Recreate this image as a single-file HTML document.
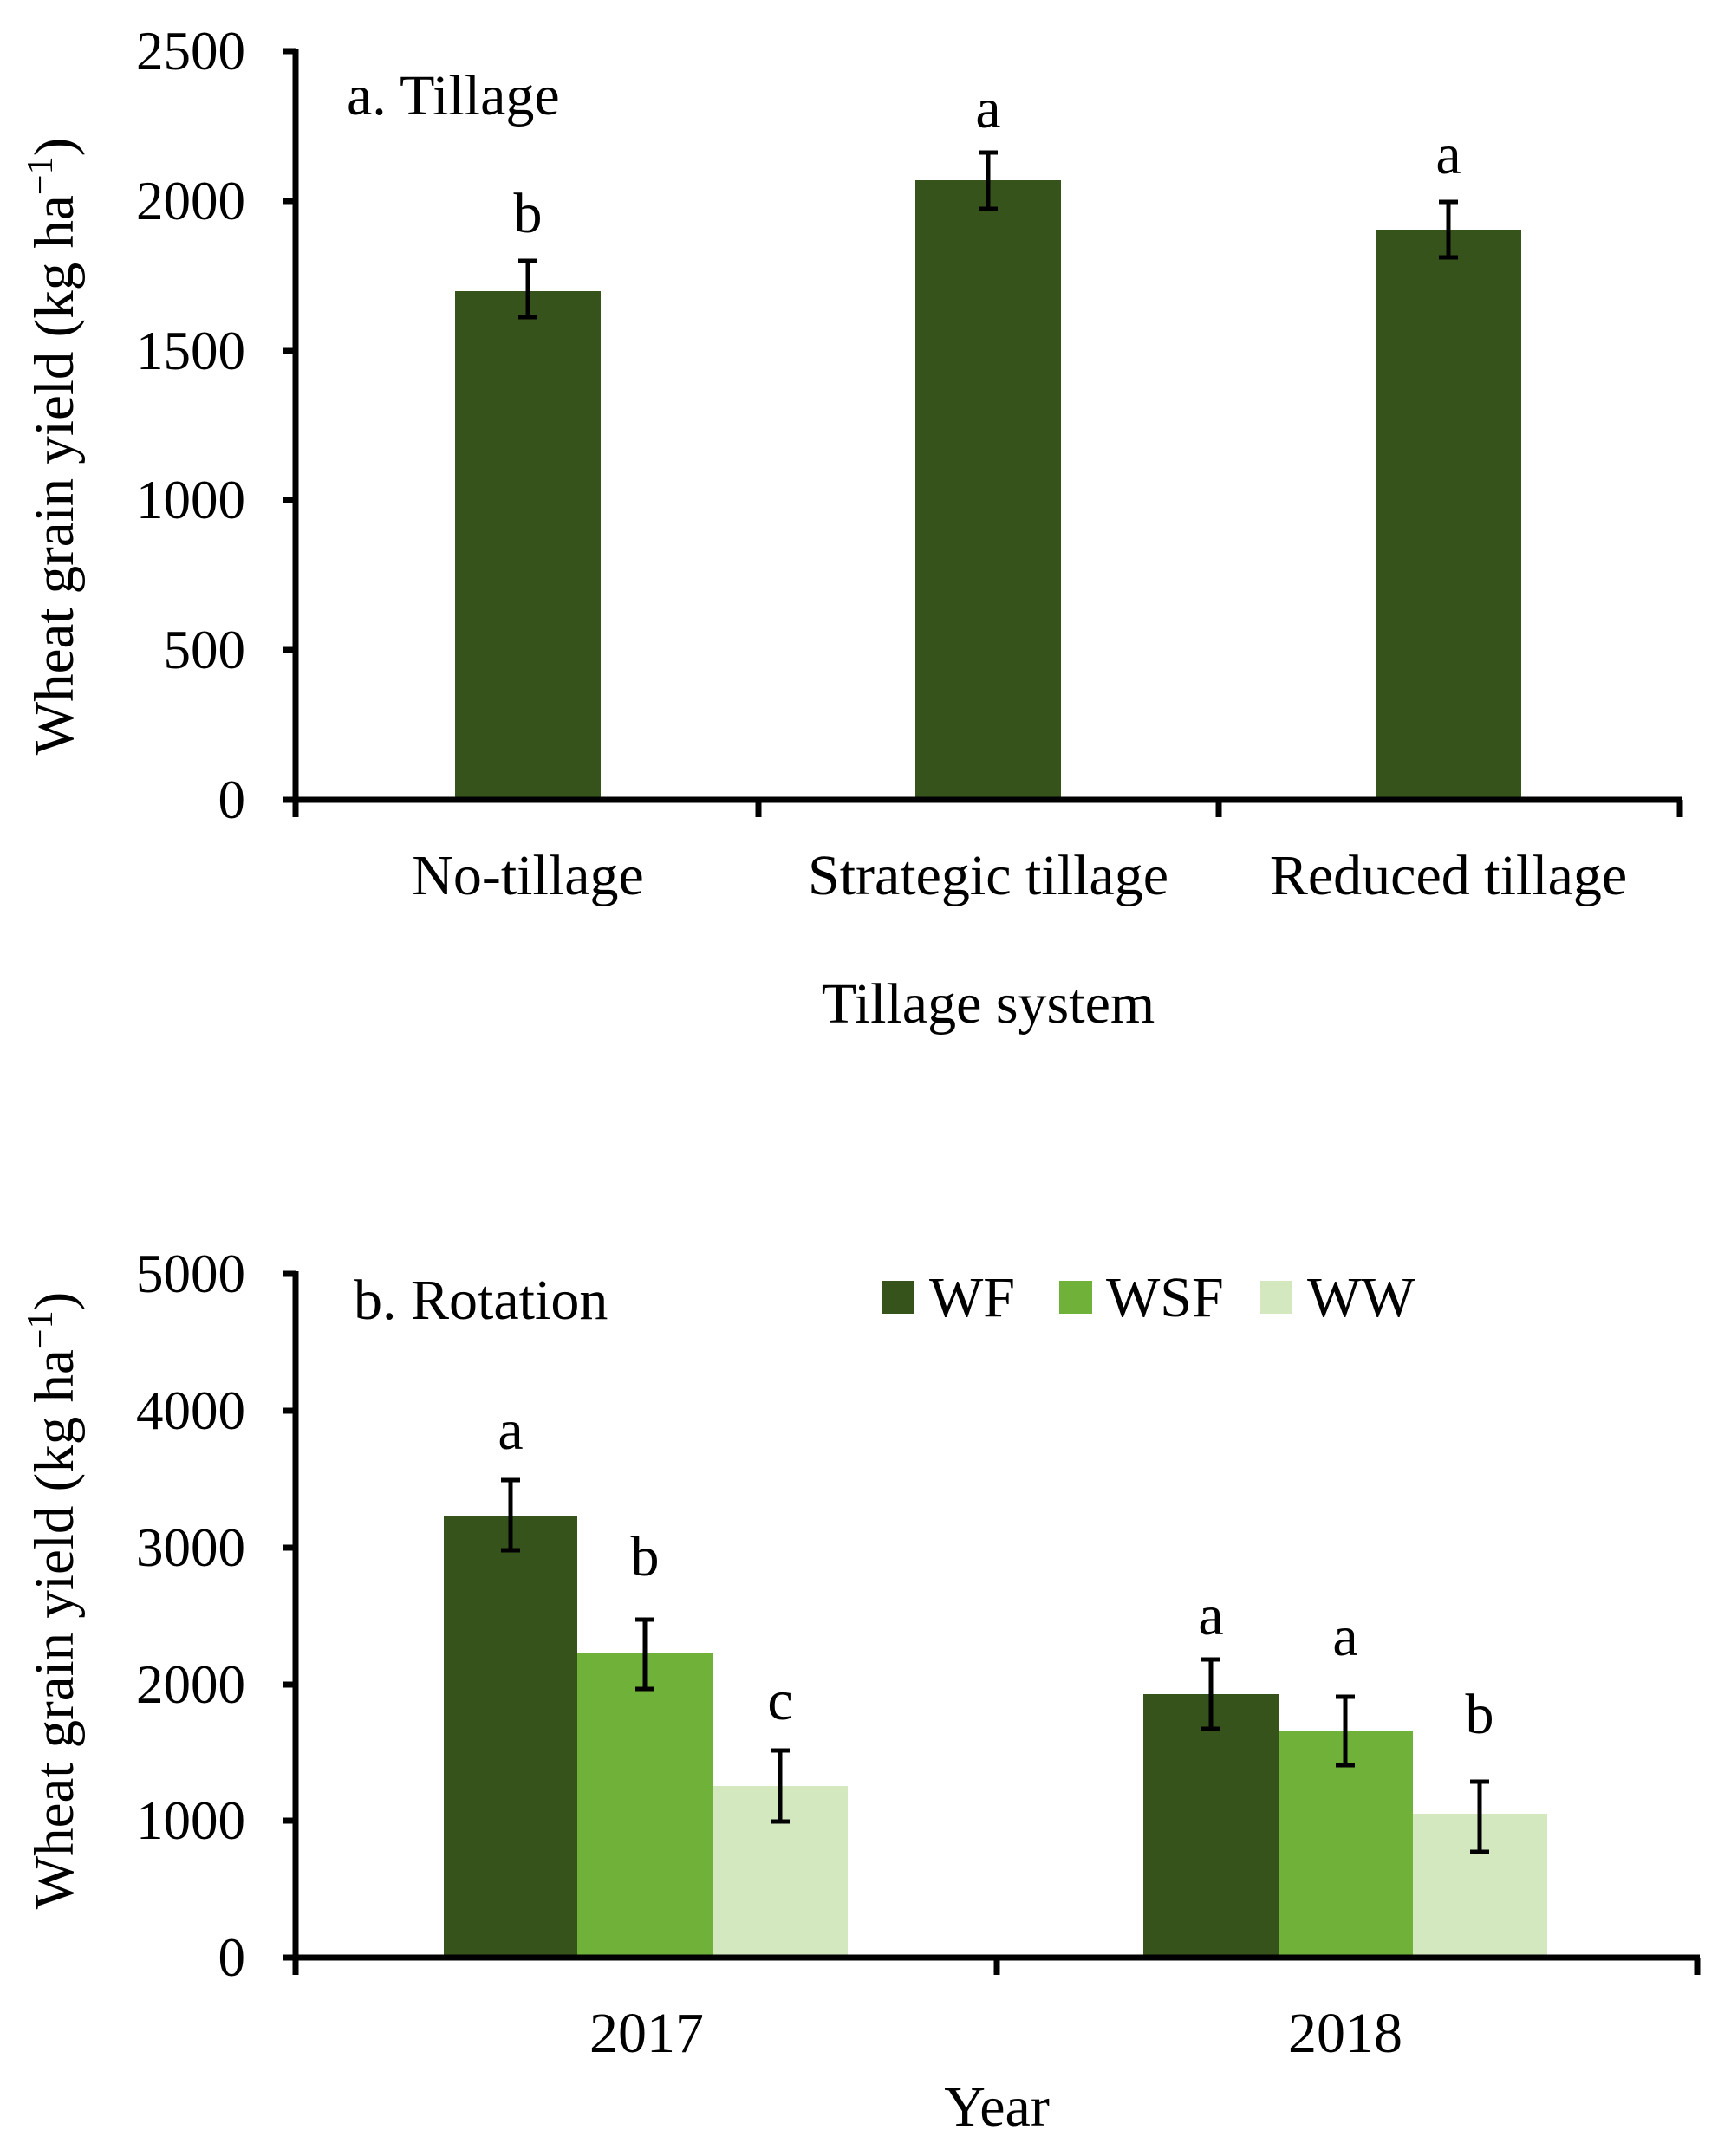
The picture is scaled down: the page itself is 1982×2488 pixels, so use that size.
<!DOCTYPE html>
<html><head><style>body{margin:0;background:#fff}svg{display:block}</style></head><body>
<svg width="1982" height="2488" viewBox="0 0 1982 2488" xmlns="http://www.w3.org/2000/svg" font-family="'Liberation Serif', serif" fill="#000">
<!-- Chart a -->
<g>
<rect x="525" y="336" width="168" height="587" fill="#36531c"/>
<rect x="1056" y="208" width="168" height="715" fill="#36531c"/>
<rect x="1587" y="265" width="168" height="658" fill="#36531c"/>
<g stroke="#000" stroke-width="5">
<line x1="609" y1="301" x2="609" y2="366"/><line x1="598" y1="301" x2="620" y2="301"/><line x1="598" y1="366" x2="620" y2="366"/>
<line x1="1140" y1="176" x2="1140" y2="241"/><line x1="1129" y1="176" x2="1151" y2="176"/><line x1="1129" y1="241" x2="1151" y2="241"/>
<line x1="1671" y1="233" x2="1671" y2="297"/><line x1="1660" y1="233" x2="1682" y2="233"/><line x1="1660" y1="297" x2="1682" y2="297"/>
</g>
<g stroke="#000" stroke-width="7">
<line x1="341" y1="56" x2="341" y2="943"/>
<line x1="326" y1="923" x2="1941" y2="923"/>
<line x1="875" y1="923" x2="875" y2="943"/><line x1="1406" y1="923" x2="1406" y2="943"/><line x1="1938" y1="923" x2="1938" y2="943"/>
<line x1="326" y1="59" x2="341" y2="59"/><line x1="326" y1="232" x2="341" y2="232"/><line x1="326" y1="405" x2="341" y2="405"/><line x1="326" y1="577" x2="341" y2="577"/><line x1="326" y1="750" x2="341" y2="750"/>
</g>
<g font-size="63" text-anchor="end">
<text x="283" y="80">2500</text><text x="283" y="253">2000</text><text x="283" y="426">1500</text><text x="283" y="598">1000</text><text x="283" y="771">500</text><text x="283" y="944">0</text>
</g>
<g font-size="66" text-anchor="middle">
<text x="609" y="268">b</text><text x="1140" y="147">a</text><text x="1671" y="200">a</text>
<text x="609" y="1032">No-tillage</text><text x="1140" y="1032">Strategic tillage</text><text x="1671" y="1032">Reduced tillage</text>
<text x="1140" y="1180">Tillage system</text>
</g>
<text x="400" y="132" font-size="66">a. Tillage</text>
<text transform="translate(84,515) rotate(-90)" font-size="65" text-anchor="middle">Wheat grain yield (kg ha<tspan dy="-24" font-size="42">−1</tspan><tspan dy="24">)</tspan></text>
</g>
<!-- Chart b -->
<g>
<rect x="512" y="1749" width="154" height="510" fill="#36531c"/>
<rect x="666" y="1907" width="157" height="352" fill="#70b13a"/>
<rect x="823" y="2061" width="155" height="198" fill="#d3e8bf"/>
<rect x="1319" y="1955" width="156" height="304" fill="#36531c"/>
<rect x="1475" y="1998" width="155" height="261" fill="#70b13a"/>
<rect x="1630" y="2093" width="155" height="166" fill="#d3e8bf"/>
<g stroke="#000" stroke-width="5">
<line x1="589" y1="1708" x2="589" y2="1789"/><line x1="578" y1="1708" x2="600" y2="1708"/><line x1="578" y1="1789" x2="600" y2="1789"/>
<line x1="744" y1="1869" x2="744" y2="1949"/><line x1="733" y1="1869" x2="755" y2="1869"/><line x1="733" y1="1949" x2="755" y2="1949"/>
<line x1="900" y1="2020" x2="900" y2="2102"/><line x1="889" y1="2020" x2="911" y2="2020"/><line x1="889" y1="2102" x2="911" y2="2102"/>
<line x1="1397" y1="1915" x2="1397" y2="1995"/><line x1="1386" y1="1915" x2="1408" y2="1915"/><line x1="1386" y1="1995" x2="1408" y2="1995"/>
<line x1="1552" y1="1958" x2="1552" y2="2037"/><line x1="1541" y1="1958" x2="1563" y2="1958"/><line x1="1541" y1="2037" x2="1563" y2="2037"/>
<line x1="1707" y1="2056" x2="1707" y2="2137"/><line x1="1696" y1="2056" x2="1718" y2="2056"/><line x1="1696" y1="2137" x2="1718" y2="2137"/>
</g>
<g stroke="#000" stroke-width="7">
<line x1="341" y1="1467" x2="341" y2="2279"/>
<line x1="326" y1="2259" x2="1961" y2="2259"/>
<line x1="1150" y1="2259" x2="1150" y2="2279"/><line x1="1958" y1="2259" x2="1958" y2="2279"/>
<line x1="326" y1="1470" x2="341" y2="1470"/><line x1="326" y1="1628" x2="341" y2="1628"/><line x1="326" y1="1786" x2="341" y2="1786"/><line x1="326" y1="1944" x2="341" y2="1944"/><line x1="326" y1="2101" x2="341" y2="2101"/>
</g>
<g font-size="63" text-anchor="end">
<text x="283" y="1491">5000</text><text x="283" y="1649">4000</text><text x="283" y="1807">3000</text><text x="283" y="1965">2000</text><text x="283" y="2122">1000</text><text x="283" y="2280">0</text>
</g>
<g font-size="66" text-anchor="middle">
<text x="589" y="1672">a</text><text x="744" y="1818">b</text><text x="900" y="1984">c</text>
<text x="1397" y="1886">a</text><text x="1552" y="1910">a</text><text x="1707" y="2000">b</text>
<text x="746" y="2368">2017</text><text x="1552" y="2368">2018</text>
<text x="1150" y="2453">Year</text>
</g>
<text x="408" y="1522" font-size="66">b. Rotation</text>
<rect x="1018" y="1478" width="36" height="38" fill="#36531c"/>
<rect x="1222" y="1478" width="38" height="38" fill="#70b13a"/>
<rect x="1454" y="1478" width="36" height="38" fill="#d3e8bf"/>
<g font-size="66"><text x="1072" y="1519">WF</text><text x="1276" y="1519">WSF</text><text x="1508" y="1519">WW</text></g>
<text transform="translate(84,1847) rotate(-90)" font-size="65" text-anchor="middle">Wheat grain yield (kg ha<tspan dy="-24" font-size="42">−1</tspan><tspan dy="24">)</tspan></text>
</g>
</svg>
</body></html>
